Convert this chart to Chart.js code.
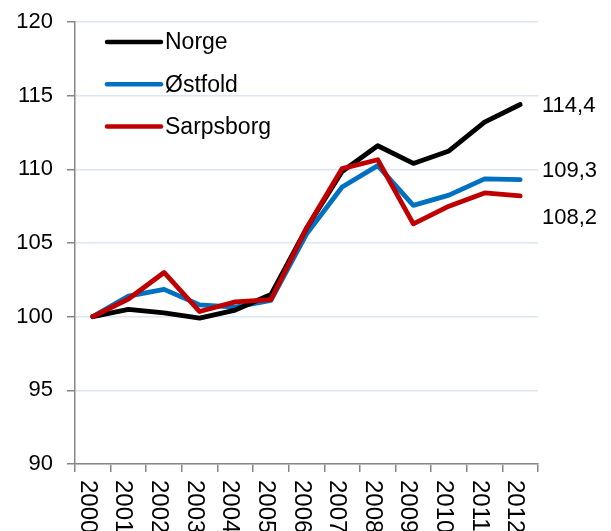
<!DOCTYPE html>
<html>
<head>
<meta charset="utf-8">
<script src="https://cdn.jsdelivr.net/npm/chart.js@4"></script>
<style>
html,body{margin:0;padding:0;background:#fff;}
canvas{display:block;}
</style>
</head>
<body>
<canvas id="c" width="611" height="531"></canvas>
<script>
const years = ['2000','2001','2002','2003','2004','2005','2006','2007','2008','2009','2010','2011','2012'];
const norge = [100, 100.5, 100.25, 99.9, 100.45, 101.5, 106.0, 109.85, 111.6, 110.4, 111.25, 113.2, 114.4];
const ostfold = [100, 101.4, 101.85, 100.8, 100.65, 101.1, 105.6, 108.8, 110.25, 107.55, 108.25, 109.35, 109.3];
const sarpsborg = [100, 101.2, 103.0, 100.35, 101.0, 101.15, 106.0, 110.05, 110.65, 106.3, 107.5, 108.4, 108.2];
const seriesNames = ['Norge', 'Østfold', 'Sarpsborg'];
const seriesColors = ['#000000', '#0070C0', '#C00000'];
const endLabelOffsets = [0, -10, 21];
const yTicks = [90, 95, 100, 105, 110, 115, 120];

const FONT = '"Liberation Sans", Arial, sans-serif';

const customDraw = {
  id: 'customDraw',
  afterDraw(chart) {
    const ctx = chart.ctx;
    const area = chart.chartArea;
    const xs = chart.scales.x;
    const ys = chart.scales.y;
    // x labels rotated clockwise
    ctx.save();
    ctx.fillStyle = '#000';
    ctx.font = '24px ' + FONT;
    ctx.textAlign = 'left';
    ctx.textBaseline = 'alphabetic';
    chart.data.labels.forEach((lab, i) => {
      const x = xs.getPixelForValue(i) - 12;
      const y = area.bottom + 16;
      ctx.save();
      ctx.translate(x, y);
      ctx.rotate(Math.PI / 2);
      ctx.fillText(lab, 0, 0);
      ctx.restore();
    });
    ctx.restore();
    // legend
    ctx.save();
    const lx = area.left + 32;
    chart.data.datasets.forEach((ds, i) => {
      const y = area.top + 20 + i * 42.3;
      ctx.strokeStyle = ds.borderColor;
      ctx.lineWidth = 4.5;
      ctx.lineCap = 'round';
      ctx.beginPath();
      ctx.moveTo(lx, y);
      ctx.lineTo(lx + 54, y);
      ctx.stroke();
      ctx.fillStyle = '#000';
      ctx.font = '23px ' + FONT;
      ctx.textAlign = 'left';
      ctx.textBaseline = 'middle';
      ctx.fillText(ds.label, lx + 58, y + 1);
    });
    ctx.restore();
    // end labels
    ctx.save();
    ctx.fillStyle = '#000';
    ctx.font = '22px ' + FONT;
    ctx.textAlign = 'left';
    ctx.textBaseline = 'middle';
    chart.data.datasets.forEach((ds, i) => {
      const v = ds.data[ds.data.length - 1];
      const y = ys.getPixelForValue(v) + endLabelOffsets[i];
      ctx.fillText(v.toFixed(1).replace('.', ','), area.right + 4, y + 1);
    });
    ctx.restore();
  }
};

const dataArrays = [norge, ostfold, sarpsborg];
const drawOrder = [1, 2, 0];

new Chart(document.getElementById('c'), {
  type: 'line',
  data: {
    labels: years,
    datasets: dataArrays.map((d, i) => ({
      label: seriesNames[i],
      data: d,
      borderColor: seriesColors[i],
      backgroundColor: seriesColors[i],
      borderWidth: 4.8,
      pointRadius: 0,
      pointHoverRadius: 0,
      tension: 0,
      borderJoinStyle: 'round',
      borderCapStyle: 'round',
      fill: false,
      order: drawOrder[i]
    }))
  },
  options: {
    responsive: false,
    animation: false,
    devicePixelRatio: 1,
    layout: { padding: { top: 22, right: 73, bottom: 0, left: 0 } },
    plugins: { legend: { display: false }, tooltip: { enabled: false } },
    scales: {
      x: {
        type: 'category',
        offset: true,
        grid: { offset: true, drawOnChartArea: false, drawTicks: true, tickLength: 8, tickColor: '#868686', lineWidth: 1.5 },
        border: { color: '#868686', width: 1.5 },
        ticks: { display: false, autoSkip: false },
        afterFit: s => { s.height = 67; s.paddingLeft = 0; s.paddingRight = 0; }
      },
      y: {
        min: 90,
        max: 120,
        afterBuildTicks: s => { s.ticks = yTicks.map(v => ({ value: v })); },
        grid: { color: '#DCE6F2', lineWidth: 1.5, tickLength: 8, tickColor: '#868686' },
        border: { color: '#868686', width: 1.5 },
        ticks: { color: '#000', font: { family: FONT, size: 22 }, padding: 14 },
        afterFit: s => { s.width = 75; s.paddingTop = 0; s.paddingBottom = 0; }
      }
    }
  },
  plugins: [customDraw]
});
</script>
</body>
</html>
